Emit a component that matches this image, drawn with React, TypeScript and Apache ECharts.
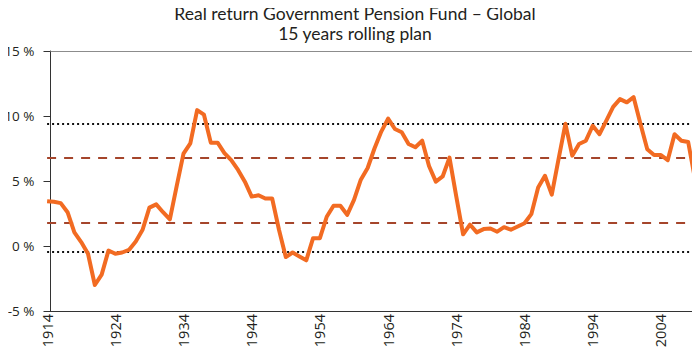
import React, { useEffect, useRef } from "react";
import * as echarts from "echarts";

const years: string[] = [];
for (let y = 1914; y <= 2009; y++) years.push(String(y));

const realReturn: number[] = [
  3.45, 3.4, 3.3, 2.6, 1.05, 0.3, -0.6, -3.0, -2.2, -0.35,
  -0.6, -0.5, -0.3, 0.35, 1.25, 2.95, 3.2, 2.6, 2.05, 4.6,
  7.1, 7.9, 10.45, 10.1, 7.95, 7.95, 7.15, 6.6, 5.85, 4.95,
  3.8, 3.9, 3.65, 3.65, 1.25, -0.85, -0.5, -0.8, -1.1, 0.6,
  0.6, 2.25, 3.1, 3.1, 2.4, 3.55, 5.1, 6.0, 7.5, 8.8,
  9.8, 9.0, 8.75, 7.85, 7.6, 8.1, 6.15, 4.95, 5.35, 6.8,
  3.8, 0.9, 1.65, 1.05, 1.3, 1.35, 1.1, 1.45, 1.25, 1.5,
  1.75, 2.45, 4.5, 5.4, 3.95, 6.7, 9.4, 6.95, 7.85, 8.1,
  9.25, 8.6, 9.65, 10.7, 11.3, 11.05, 11.45, 9.4, 7.45, 7.0,
  7.0, 6.6, 8.6, 8.1, 8.0, 5.15,
];

const dottedLevels: number[] = [9.4, -0.45];
const dashedLevels: number[] = [6.8, 1.8];

const yTicks = { min: -5, max: 15, interval: 5 };

const TITLE_FONT = "Lato, 'Open Sans', sans-serif";
const FONT = "'Open Sans', Lato, sans-serif";
const TEXT = "#231f20";

export default function App() {
  const ref = useRef<HTMLDivElement>(null);
  useEffect(() => {
    if (!ref.current) return;
    const chart = echarts.init(ref.current, undefined, { renderer: "svg" });
    chart.setOption({
      animation: false,
      backgroundColor: "#ffffff",
      title: {
        text: "Real return Government Pension Fund – Global\n15 years rolling plan",
        left: 355,
        textAlign: "center",
        top: 4,
        padding: 0,
        textStyle: {
          fontFamily: TITLE_FONT,
          fontSize: 17.5,
          fontWeight: "normal",
          color: TEXT,
          lineHeight: 19.5,
        },
      },
      grid: { left: 47.1, right: 5, top: 51, bottom: 45, containLabel: false },
      xAxis: [
        {
          type: "category",
          data: years,
          boundaryGap: false,
          position: "bottom",
          axisLine: { show: true, onZero: false, lineStyle: { color: "#333333", width: 1 } },
          axisTick: { show: false },
          splitLine: { show: false },
          axisLabel: {
            interval: 9,
            rotate: 90,
            margin: 3,
            fontFamily: FONT,
            fontSize: 14.5,
            color: TEXT,
          },
        },
        {
          type: "category",
          data: years,
          boundaryGap: false,
          position: "top",
          axisLine: { show: true, onZero: false, lineStyle: { color: "#8c8c8c", width: 1 } },
          axisTick: { show: false },
          axisLabel: { show: false },
          splitLine: { show: false },
        },
      ],
      yAxis: [
        {
          type: "value",
          min: yTicks.min,
          max: yTicks.max,
          interval: yTicks.interval,
          offset: -3.4,
          axisLine: { show: true, onZero: false, lineStyle: { color: "#333333", width: 1 } },
          axisTick: { show: true, length: 7, lineStyle: { color: "#333333" } },
          splitLine: { show: false },
          axisLabel: {
            margin: 16,
            fontFamily: FONT,
            fontSize: 13.5,
            color: TEXT,
            formatter: (v: number) => `${v} %`,
          },
        },
        {
          type: "value",
          min: yTicks.min,
          max: yTicks.max,
          interval: yTicks.interval,
          position: "right",
          offset: 2.5,
          axisLine: { show: true, onZero: false, lineStyle: { color: "#8c8c8c", width: 1 } },
          axisTick: { show: false },
          axisLabel: { show: false },
          splitLine: { show: false },
        },
      ],
      series: [
        {
          type: "line",
          xAxisIndex: 0,
          yAxisIndex: 0,
          data: realReturn,
          symbol: "none",
          lineStyle: { color: "#f26b22", width: 4, join: "round" },
          z: 5,
        },
        {
          type: "line",
          xAxisIndex: 1,
          yAxisIndex: 1,
          data: [],
          symbol: "none",
          z: 3,
          markLine: {
            silent: true,
            symbol: "none",
            label: { show: false },
            data: [
              ...dottedLevels.map((v) => ({
                yAxis: v,
                lineStyle: { color: "#111111", width: 2, type: [2, 3] },
              })),
              ...dashedLevels.map((v) => ({
                yAxis: v,
                lineStyle: { color: "#a5452b", width: 2, type: [9, 8] },
              })),
            ],
          },
        },
      ],
    });
    return () => chart.dispose();
  }, []);
  return <div ref={ref} style={{ width: 700, height: 356, margin: -8 }} />;
}
